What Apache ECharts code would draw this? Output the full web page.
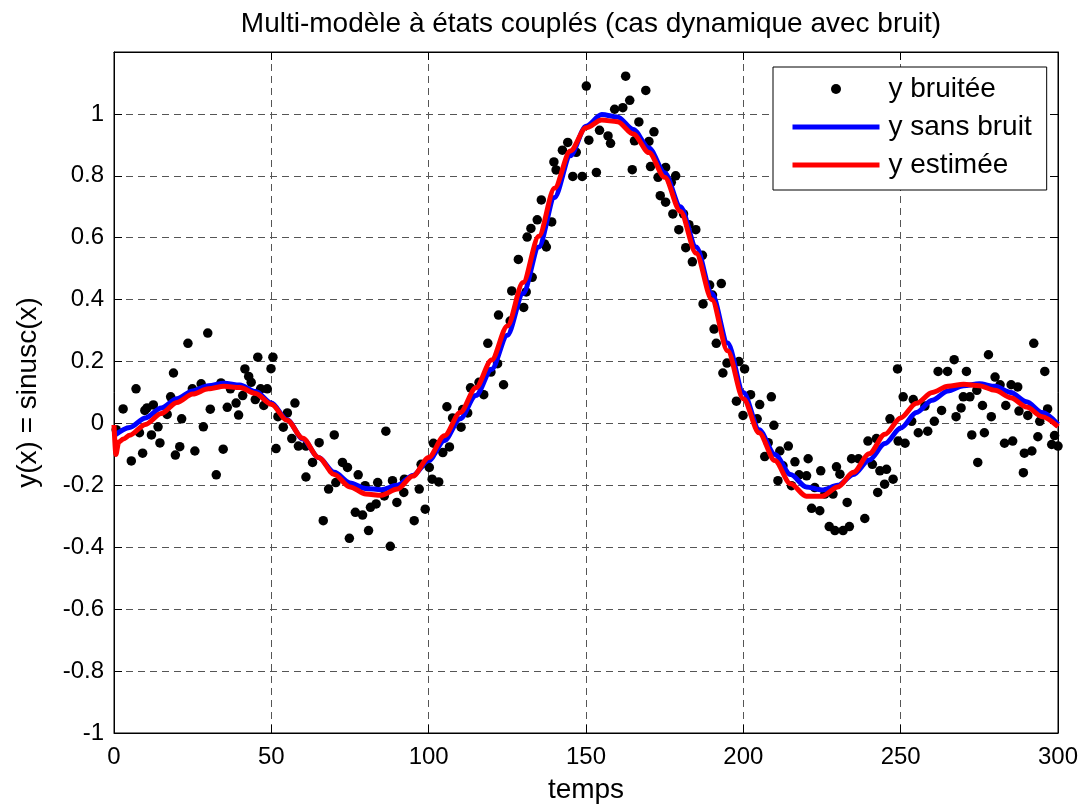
<!DOCTYPE html>
<html>
<head>
<meta charset="utf-8">
<script src="https://cdn.jsdelivr.net/npm/echarts/dist/echarts.min.js"></script>
<style>
html,body{margin:0;padding:0;background:#fff;}
#chart{width:1087px;height:809px;}
</style>
</head>
<body>
<div id="chart"></div>
<script>
// ---- data ----
const titleText = 'Multi-modèle à états couplés (cas dynamique avec bruit)';
const xName = 'temps';
const yName = 'y(x) = sinusc(x)';
const seriesNames = ['y bruitée', 'y sans bruit', 'y estimée'];

// noisy measurements (time, value)
const noisyT = [0.7,2.9,5.5,7.0,8.1,9.1,9.8,10.5,11.9,12.5,14.0,14.6,16.9,18.0,18.9,19.5,20.9,21.5,23.5,24.9,25.7,27.7,28.4,29.8,30.6,32.5,34.0,34.7,36.0,37.0,38.8,39.6,40.9,41.6,42.8,43.6,44.9,45.7,46.6,47.6,48.7,49.9,50.5,51.5,52.1,
53.8,55.1,56.5,57.5,58.6,61.0,61.0,63.1,65.2,66.5,68.2,70.0,70.5,72.6,74.2,74.8,76.7,77.6,79.0,79.8,80.9,81.5,83.3,83.8,85.9,86.4,87.8,88.5,89.9,92.1,92.3,95.4,97.0,97.6,98.9,100.2,101.1,101.5,103.2,
104.5,105.8,106.6,107.6,110.3,110.8,112.4,113.3,116.0,117.5,118.8,119.8,121.9,122.2,123.8,125.9,126.4,128.5,130.2,131.0,131.3,132.5,132.9,134.5,135.8,136.8,137.4,139.1,139.8,140.5,142.5,144.2,145.8,146.9,148.8,150.1,150.9,153.3,154.3,
157.0,157.8,159.1,161.7,162.6,163.9,164.7,165.4,166.8,169.0,170.0,170.5,171.6,172.9,173.6,175.3,175.3,177.1,177.6,178.5,179.5,181.0,181.7,182.7,183.8,184.9,187.0,187.2,189.3,190.2,190.7,191.4,193.0,193.5,194.8,197.8,198.6,199.9,200.4,202.3,205.2,
204.4,206.8,207.9,208.9,209.7,211.0,211.6,212.6,214.3,215.3,216.4,217.7,220.1,220.6,221.7,222.7,224.3,224.6,225.9,227.3,228.5,229.1,229.6,230.7,231.7,233.0,233.7,234.4,236.6,238.6,239.6,241.0,242.3,242.7,243.4,244.9,245.5,246.6,247.6,249.0,249.2,250.8,251.4,253.5,254.0,255.6,
257.7,258.6,260.7,261.9,263.0,264.9,267.0,267.6,269.2,269.9,270.9,272.0,272.6,274.2,274.5,276.0,276.6,277.9,278.8,280.0,281.6,283.0,283.4,285.1,285.6,287.2,287.6,289.0,289.3,290.4,291.7,292.3,293.6,294.2,295.8,296.7,298.0,298.9,300.0];
const noisyY = [-0.02,0.047,-0.121,0.112,-0.03,-0.096,0.042,0.05,-0.037,0.06,-0.011,-0.063,0.029,0.086,0.163,-0.102,-0.075,0.015,0.259,0.112,-0.089,0.128,-0.011,0.292,0.046,-0.166,0.131,-0.083,0.052,0.112,0.066,0.027,0.09,0.176,0.152,0.133,0.077,0.214,0.112,0.058,0.112,0.177,0.214,-0.081,0.022,
-0.012,0.034,-0.049,0.066,-0.073,-0.073,-0.173,-0.126,-0.062,-0.314,-0.212,-0.037,-0.191,-0.126,-0.142,-0.371,-0.287,-0.166,-0.296,-0.201,-0.346,-0.271,-0.26,-0.191,-0.234,-0.025,-0.397,-0.185,-0.255,-0.223,-0.18,-0.314,-0.212,-0.132,-0.277,-0.142,-0.18,-0.064,-0.189,
-0.094,0.054,-0.076,0.018,-0.012,0.045,0.034,0.115,0.133,0.093,0.259,0.166,0.193,0.35,0.125,0.331,0.428,0.53,0.375,0.425,0.602,0.63,0.472,0.658,0.722,0.58,0.57,0.651,0.845,0.819,0.883,0.908,0.798,0.876,0.798,1.09,0.915,0.811,0.947,
0.929,0.905,1.015,1.02,1.122,1.044,0.82,0.913,0.974,1.076,0.911,0.83,0.942,0.795,0.736,0.827,0.715,0.779,0.677,0.8,0.626,0.677,0.568,0.642,0.522,0.626,0.543,0.386,0.447,0.415,0.305,0.259,0.452,0.163,0.195,0.072,0.2,0.026,0.176,0.093,0.061,
0.015,-0.107,-0.062,0.086,-0.006,-0.185,-0.089,-0.137,-0.073,-0.201,-0.124,-0.166,-0.169,-0.114,-0.274,-0.207,-0.282,-0.153,-0.228,-0.333,-0.228,-0.346,-0.14,-0.164,-0.346,-0.255,-0.333,-0.114,-0.114,-0.307,-0.057,-0.132,-0.049,-0.223,-0.153,-0.196,-0.148,0.015,-0.18,0.176,-0.057,0.086,-0.064,0.007,0.077,-0.03,
0.056,-0.025,0.007,0.168,0.042,0.168,0.206,0.022,0.05,0.086,0.168,0.086,-0.037,0.107,-0.126,0.058,-0.03,0.222,0.022,0.15,0.125,-0.064,0.058,0.125,-0.057,0.118,0.04,-0.159,-0.096,0.026,-0.089,0.259,-0.043,0.007,0.168,0.047,-0.068,-0.039,-0.073];

// noise-free curve
const cleanT = [0,5,10,15,20,25,30,35,40,45,50,55,60,65,70,75,80,85,90,95,100,105,110,115,120,125,130,135,140,145,150,155,160,165,170,175,180,185,190,195,200,205,210,215,220,225,230,235,240,245,250,255,260,265,270,275,280,285,290,295,300];
const cleanY = [-0.04,-0.013,0.018,0.05,0.08,0.105,0.122,0.13,0.124,0.103,0.066,0.012,-0.05,-0.11,-0.158,-0.192,-0.21,-0.214,-0.2,-0.168,-0.12,-0.055,0.015,0.09,0.175,0.285,0.42,0.57,0.73,0.865,0.96,0.998,0.99,0.95,0.89,0.81,0.7,0.57,0.42,0.26,0.1,-0.02,-0.1,-0.165,-0.205,-0.215,-0.2,-0.165,-0.118,-0.065,-0.015,0.035,0.075,0.105,0.122,0.128,0.12,0.1,0.07,0.035,-0.003];

// estimated curve
const estT = [0,0.6,1.5,3,5,10,15,20,25,30,35,40,45,50,55,60,65,70,75,80,85,90,95,100,105,110,115,120,125,130,135,140,145,150,155,160,165,170,175,180,185,190,195,200,205,210,215,220,225,230,235,240,245,250,255,260,265,270,275,280,285,290,295,300];
const estY = [-0.005,-0.1,-0.06,-0.05,-0.038,-0.003,0.032,0.068,0.095,0.112,0.12,0.116,0.097,0.062,0.01,-0.048,-0.11,-0.165,-0.205,-0.228,-0.232,-0.212,-0.17,-0.11,-0.04,0.035,0.115,0.205,0.315,0.455,0.605,0.76,0.88,0.955,0.98,0.975,0.935,0.875,0.795,0.685,0.55,0.4,0.235,0.08,-0.03,-0.12,-0.195,-0.235,-0.235,-0.205,-0.158,-0.098,-0.035,0.018,0.065,0.1,0.12,0.127,0.122,0.107,0.083,0.053,0.022,-0.01];

const xTicks = {min: 0, max: 300, step: 50};
const yTicks = {min: -1, max: 1.2, step: 0.2};

// ---- chart ----
const zip = (a, b) => a.map((v, i) => [v, b[i]]);
const FONT = 'Liberation Sans, Arial, Helvetica, sans-serif';
const chart = echarts.init(document.getElementById('chart'), null, {renderer: 'canvas'});

const gridLine = {show: true, lineStyle: {color: '#555', width: 1, type: [7, 5]}};
const tick = {show: true, inside: true, length: 8, lineStyle: {color: '#000', width: 1}};

chart.setOption({
  backgroundColor: '#fff',
  animation: false,
  title: {
    text: titleText, left: 586, textAlign: 'center', top: 5,
    textStyle: {fontFamily: FONT, fontSize: 28, fontWeight: 'normal', color: '#000'}
  },
  grid: {left: 114, right: 29, top: 52, bottom: 73, show: true, borderColor: '#000', borderWidth: 1, backgroundColor: '#fff'},
  legend: {
    orient: 'vertical', left: 773, top: 67,
    backgroundColor: '#fff', borderColor: '#000', borderWidth: 1,
    padding: [8, 15, 11, 17], itemGap: 10, itemWidth: 87, itemHeight: 10,
    textStyle: {fontFamily: FONT, fontSize: 28, color: '#000', padding: [0, 0, 0, 4]},
    data: [
      {name: seriesNames[0], icon: 'circle', itemStyle: {color: '#000', opacity: 1}},
      {name: seriesNames[1], itemStyle: {opacity: 0}, lineStyle: {color: '#0000ff', width: 5}},
      {name: seriesNames[2], itemStyle: {opacity: 0}, lineStyle: {color: '#ff0000', width: 5}}
    ]
  },
  xAxis: [{
    type: 'value', min: xTicks.min, max: xTicks.max, interval: xTicks.step,
    name: xName, nameLocation: 'middle', nameGap: 43,
    nameTextStyle: {fontFamily: FONT, fontSize: 28, color: '#000'},
    axisLine: {show: true, onZero: false, lineStyle: {color: '#000'}},
    axisTick: tick, splitLine: gridLine,
    axisLabel: {fontFamily: FONT, fontSize: 24, color: '#000', margin: 12}
  }, {
    type: 'value', position: 'top', min: xTicks.min, max: xTicks.max, interval: xTicks.step,
    axisLine: {show: true, onZero: false, lineStyle: {color: '#000'}}, axisTick: tick,
    axisLabel: {show: false}, splitLine: {show: false}
  }],
  yAxis: [{
    type: 'value', min: yTicks.min, max: yTicks.max, interval: yTicks.step,
    name: yName, nameLocation: 'middle', nameGap: 72,
    nameTextStyle: {fontFamily: FONT, fontSize: 28, color: '#000'},
    axisLine: {show: true, onZero: false, lineStyle: {color: '#000'}},
    axisTick: tick, splitLine: gridLine,
    axisLabel: {
      fontFamily: FONT, fontSize: 24, color: '#000', margin: 10,
      formatter: v => (v > 1.1 ? '' : String(+v.toFixed(1)))
    }
  }, {
    type: 'value', position: 'right', min: yTicks.min, max: yTicks.max, interval: yTicks.step,
    axisLine: {show: true, onZero: false, lineStyle: {color: '#000'}}, axisTick: tick,
    axisLabel: {show: false}, splitLine: {show: false}
  }],
  series: [{
    name: seriesNames[0], type: 'scatter', data: zip(noisyT, noisyY),
    symbol: 'circle', symbolSize: 9.5, itemStyle: {color: '#000', opacity: 1}, z: 2
  }, {
    name: seriesNames[1], type: 'line', data: zip(cleanT, cleanY),
    showSymbol: false, symbol: 'none', smooth: 0.3, smoothMonotone: 'x',
    lineStyle: {color: '#0000ff', width: 5}, itemStyle: {color: '#0000ff'}, z: 3
  }, {
    name: seriesNames[2], type: 'line', data: zip(estT, estY),
    showSymbol: false, symbol: 'none', smooth: 0.3, smoothMonotone: 'x',
    lineStyle: {color: '#ff0000', width: 5}, itemStyle: {color: '#ff0000'}, z: 4
  }]
});
</script>
</body>
</html>
